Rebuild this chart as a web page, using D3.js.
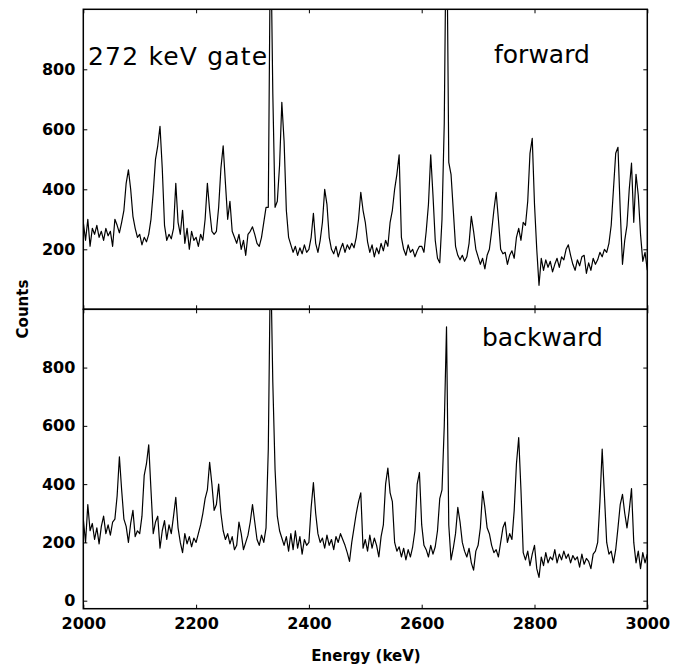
<!DOCTYPE html>
<html>
<head>
<meta charset="utf-8">
<script src="https://cdn.jsdelivr.net/npm/d3@7"></script>
<style>
  body { margin: 0; background: #fff; }
  .axis text { font-family: "DejaVu Sans", sans-serif; font-weight: bold; font-size: 16px; fill: #000; }
  .axis line { stroke: #000; stroke-width: 1; }
  .axis path { display: none; }
</style>
</head>
<body>
<script>
// energy channels (keV), one reading every 4 keV
const energies = d3.range(2000, 3001, 4);

// forward detector counts
const forwardCounts = [
  290, 230, 300, 210, 270, 250, 280, 240, 260, 230, 270, 245, 260, 210, 300, 280, 255, 290, 330, 420, 465, 400, 310, 270, 240,
  250, 215, 240, 225, 250, 300, 390, 500, 545, 610, 470, 280, 230, 250, 235, 270, 420, 290, 250, 330, 220, 270, 200, 260, 230,
  240, 210, 250, 230, 300, 420, 330, 260, 250, 260, 340, 470, 545, 420, 300, 360, 260, 240, 220, 250, 200, 230, 180, 250, 260,
  275, 250, 220, 210, 240, 290, 340, 340, 1300, 720, 340, 360, 480, 690, 560, 330, 240, 215, 190, 210, 180, 205, 185, 215, 190,
  200, 240, 320, 220, 190, 230, 290, 400, 350, 240, 200, 185, 210, 175, 200, 220, 190, 215, 200, 220, 205, 240, 300, 390, 330,
  290, 225, 190, 215, 175, 205, 185, 220, 195, 230, 210, 290, 330, 400, 450, 515, 240, 200, 180, 215, 190, 200, 175, 195, 210,
  210, 190, 260, 350, 515, 380, 230, 170, 155, 300, 620, 1400, 490, 450, 330, 210, 180, 165, 180, 160, 175, 220, 310, 260, 200,
  175, 150, 170, 135, 180, 200, 260, 330, 390, 300, 200, 185, 190, 150, 180, 195, 170, 240, 270, 230, 290, 280, 360, 520, 570,
  350, 200, 80, 170, 130, 165, 140, 160, 125, 150, 170, 140, 175, 165, 200, 215, 180, 150, 130, 165, 145, 175, 180, 120, 155,
  130, 170, 150, 165, 190, 175, 200, 190, 220, 280, 400, 520, 540, 330, 150, 230, 280, 400, 487, 290, 450, 380, 250, 160, 190,
  130,
];

// backward detector counts
const backwardCounts = [
  280, 200, 330, 240, 265, 210, 250, 195, 255, 290, 230, 260, 225, 270, 280, 360, 494, 380, 280, 255, 200, 265, 310, 220, 240,
  230, 290, 430, 470, 535, 380, 230, 270, 290, 180, 240, 275, 210, 260, 230, 290, 355, 250, 200, 165, 230, 195, 220, 185, 215,
  200, 230, 260, 300, 350, 380, 475, 400, 310, 330, 400, 300, 240, 210, 230, 195, 220, 175, 190, 270, 230, 175, 200, 225, 270,
  330, 270, 210, 190, 225, 200, 250, 520, 1200, 750, 450, 290, 240, 215, 190, 220, 170, 230, 175, 240, 180, 220, 160, 210, 190,
  200, 320, 405, 300, 230, 200, 215, 180, 225, 190, 210, 175, 220, 200, 230, 210, 190, 165, 135, 200, 250, 300, 340, 370, 180,
  210, 170, 225, 180, 215, 190, 150, 220, 260, 400, 455, 370, 340, 200, 170, 185, 150, 180, 140, 175, 150, 185, 240, 400, 440,
  260, 190, 175, 150, 190, 160, 185, 240, 350, 380, 600, 940, 260, 140, 180, 230, 320, 270, 200, 170, 150, 180, 130, 105, 170,
  190, 250, 375, 320, 250, 230, 190, 165, 175, 150, 200, 250, 270, 200, 230, 210, 310, 470, 560, 380, 165, 140, 170, 120, 160,
  190, 110, 80, 150, 120, 165, 130, 150, 140, 175, 130, 160, 140, 170, 145, 160, 130, 155, 140, 150, 115, 160, 125, 145, 135,
  110, 160, 170, 200, 340, 520, 360, 200, 160, 170, 130, 175, 250, 330, 365, 300, 250, 310, 385, 200, 130, 170, 110, 165, 130,
  160,
];

const xTicks = [2000, 2200, 2400, 2600, 2800, 3000];
const topYTicks = [200, 400, 600, 800];
const bottomYTicks = [0, 200, 400, 600, 800];

const w = 680;
const h = 666;
const left = 83.3;
const right = 647.3;

const svg = d3
  .select("body")
  .append("svg")
  .attr("width", w)
  .attr("height", h);

const xScale = d3.scaleLinear().domain([2000, 3000]).range([left, right]);

const panels = [
  {
    id: "fwd",
    counts: forwardCounts,
    yTicks: topYTicks,
    top: 9.3,
    bottom: 309.3,
    yScale: d3.scaleLinear().domain([0, 1000]).range([309.3, 9.3]),
    xLabels: false,
  },
  {
    id: "bwd",
    counts: backwardCounts,
    yTicks: bottomYTicks,
    top: 309.3,
    bottom: 608.7,
    yScale: d3.scaleLinear().domain([-27.5, 1000]).range([608.7, 309.3]),
    xLabels: true,
  },
];

panels.forEach((p) => {
  svg
    .append("clipPath")
    .attr("id", "clip-" + p.id)
    .append("rect")
    .attr("x", left)
    .attr("y", p.top)
    .attr("width", right - left)
    .attr("height", p.bottom - p.top);

  const line = d3
    .line()
    .x((d, i) => xScale(energies[i]))
    .y((d) => p.yScale(d));

  svg
    .append("path")
    .datum(p.counts)
    .attr("clip-path", `url(#clip-${p.id})`)
    .attr("d", line)
    .attr("fill", "none")
    .attr("stroke", "#000")
    .attr("stroke-width", 1.2)
    .attr("stroke-linejoin", "round");

  // ticks point inwards on all four sides
  svg
    .append("g")
    .attr("class", "axis")
    .attr("transform", `translate(${left}, 0)`)
    .call(d3.axisLeft(p.yScale).tickValues(p.yTicks).tickSize(-4).tickPadding(8));

  svg
    .append("g")
    .attr("class", "axis")
    .attr("transform", `translate(${right}, 0)`)
    .call(d3.axisRight(p.yScale).tickValues(p.yTicks).tickSize(-4).tickFormat(""));

  svg
    .append("g")
    .attr("class", "axis")
    .attr("transform", `translate(0, ${p.top})`)
    .call(d3.axisTop(xScale).tickValues(xTicks).tickSize(-4).tickFormat(""));

  svg
    .append("g")
    .attr("class", "axis")
    .attr("transform", `translate(0, ${p.bottom})`)
    .call(
      d3
        .axisBottom(xScale)
        .tickValues(xTicks)
        .tickSize(-4)
        .tickPadding(9)
        .tickFormat(p.xLabels ? d3.format("d") : "")
    );

  svg
    .append("rect")
    .attr("x", left)
    .attr("y", p.top)
    .attr("width", right - left)
    .attr("height", p.bottom - p.top)
    .attr("fill", "none")
    .attr("stroke", "#000")
    .attr("stroke-width", 1.5);
});

const label = (text, x, y, size, weight) =>
  svg
    .append("text")
    .text(text)
    .attr("x", x)
    .attr("y", y)
    .attr("font-family", "DejaVu Sans, sans-serif")
    .attr("font-size", size)
    .attr("font-weight", weight)
    .attr("fill", "#000");

label("272 keV gate", 88, 65, 25, "normal").attr("letter-spacing", 1.2);
label("forward", 494, 63, 25, "normal");
label("backward", 482, 346, 25, "normal");
label("Energy (keV)", 366, 661, 15, "bold").attr("text-anchor", "middle");
label("Counts", 0, 0, 15, "bold")
  .attr("text-anchor", "middle")
  .attr("transform", "translate(28, 309) rotate(-90)");
</script>
</body>
</html>
